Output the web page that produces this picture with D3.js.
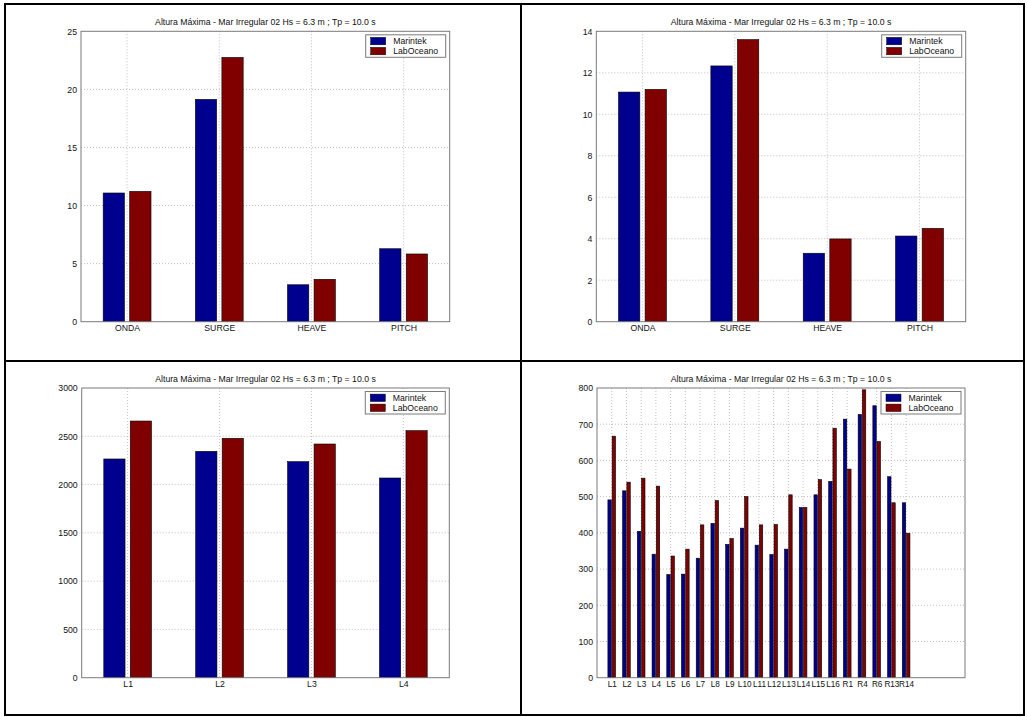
<!DOCTYPE html>
<html>
<head>
<meta charset="utf-8">
<script src="https://cdn.jsdelivr.net/npm/d3@7"></script>
<style>
  html, body { margin: 0; padding: 0; background: #fff; }
  svg { display: block; }
  text { font-family: "Liberation Sans", Arial, sans-serif; fill: #111; }
</style>
</head>
<body>
<svg id="chart" width="1027" height="717"></svg>
<script>
// ---------- data ----------
const titleText = "Altura Máxima - Mar Irregular 02 Hs = 6.3 m ; Tp = 10.0 s";
const seriesNames = ["Marintek", "LabOceano"];

const motionCats = ["ONDA", "SURGE", "HEAVE", "PITCH"];
const p1Marintek  = [11.08, 19.14, 3.18, 6.28];
const p1LabOceano = [11.22, 22.75, 3.65, 5.83];
const p1YTicks = [0, 5, 10, 15, 20, 25];

const p2Marintek  = [11.07, 12.33, 3.30, 4.13];
const p2LabOceano = [11.20, 13.60, 3.99, 4.50];
const p2YTicks = [0, 2, 4, 6, 8, 10, 12, 14];

const lineCats = ["L1", "L2", "L3", "L4"];
const p3Marintek  = [2265, 2344, 2237, 2068];
const p3LabOceano = [2658, 2479, 2420, 2558];
const p3YTicks = [0, 500, 1000, 1500, 2000, 2500, 3000];

const allLineCats = ["L1","L2","L3","L4","L5","L6","L7","L8","L9","L10","L11","L12","L13","L14","L15","L16","R1","R4","R6","R13","R14"];
const p4Marintek  = [491, 516, 404, 341, 285, 286, 330, 426, 368, 413, 366, 340, 355, 470, 505, 542, 714, 727, 751, 555, 483];
const p4LabOceano = [667, 540, 551, 529, 336, 355, 422, 489, 384, 500, 422, 423, 505, 470, 547, 689, 576, 795, 652, 483, 399];
const p4YTicks = [0, 100, 200, 300, 400, 500, 600, 700, 800];

const colors = ["#00008f", "#800000"];
const FS = "8.7px";

// ---------- layout ----------
const svg = d3.select("#chart");

const panels = [
  { cats: motionCats, a: p1Marintek, b: p1LabOceano, yTicks: p1YTicks,
    x0: 81, x1: 449.7, y0: 31.3, y1: 321.7, xDom: [0.5, 4.5] },
  { cats: motionCats, a: p2Marintek, b: p2LabOceano, yTicks: p2YTicks,
    x0: 596.3, x1: 965.7, y0: 31.3, y1: 321.7, xDom: [0.5, 4.5] },
  { cats: lineCats, a: p3Marintek, b: p3LabOceano, yTicks: p3YTicks,
    x0: 81.7, x1: 449.3, y0: 388, y1: 677.7, xDom: [0.5, 4.5] },
  { cats: allLineCats, a: p4Marintek, b: p4LabOceano, yTicks: p4YTicks,
    x0: 597, x1: 965, y0: 388, y1: 677.7, xDom: [0, 25], xFs: "8.2px" }
];

panels.forEach(p => {
  const g = svg.append("g");
  const x = d3.scaleLinear().domain(p.xDom).range([p.x0, p.x1]);
  const y = d3.scaleLinear().domain([0, d3.max(p.yTicks)]).range([p.y1, p.y0]);
  const slot = x(2) - x(1);
  const idx = p.cats.map((c, i) => i + 1);

  // grid
  g.append("g").selectAll("line.h").data(p.yTicks.slice(1, -1)).join("line")
    .attr("x1", p.x0).attr("x2", p.x1)
    .attr("y1", d => y(d)).attr("y2", d => y(d))
    .attr("stroke", "#b0b0b0").attr("stroke-width", 0.8).attr("stroke-dasharray", "1,2");
  g.append("g").selectAll("line.v").data(idx).join("line")
    .attr("x1", d => x(d)).attr("x2", d => x(d))
    .attr("y1", p.y0).attr("y2", p.y1)
    .attr("stroke", "#b0b0b0").attr("stroke-width", 0.8).attr("stroke-dasharray", "1,2");

  // bars
  const bw = slot * 0.231;
  const off = slot * 0.144;
  [p.a, p.b].forEach((vals, s) => {
    g.append("g").selectAll("rect").data(vals).join("rect")
      .attr("x", (d, i) => x(i + 1) + (s === 0 ? -off : off) - bw / 2)
      .attr("width", bw)
      .attr("y", d => y(d))
      .attr("height", d => y(0) - y(d))
      .attr("fill", colors[s])
      .attr("stroke", "#000").attr("stroke-width", 0.6);
  });

  // axes
  const yAxis = d3.axisLeft(y).tickValues(p.yTicks).tickFormat(d3.format("d")).tickSize(0).tickPadding(4);
  const ya = g.append("g").attr("transform", `translate(${p.x0},0)`).call(yAxis);
  const xAxis = d3.axisBottom(x).tickValues(idx).tickFormat(d => p.cats[d - 1]).tickSize(0).tickPadding(3.5);
  const xa = g.append("g").attr("transform", `translate(0,${p.y1})`).call(xAxis);
  ya.select(".domain").remove();
  xa.select(".domain").remove();
  ya.selectAll("text").style("font-family", '"Liberation Sans", Arial, sans-serif')
    .style("font-size", FS).attr("fill", "#111");
  xa.selectAll("text").style("font-family", '"Liberation Sans", Arial, sans-serif')
    .style("font-size", p.xFs || FS).attr("fill", "#111");

  // box
  g.append("rect").attr("x", p.x0).attr("y", p.y0)
    .attr("width", p.x1 - p.x0).attr("height", p.y1 - p.y0)
    .attr("fill", "none").attr("stroke", "#7a7a7a").attr("stroke-width", 1);

  // title
  g.append("text").attr("x", (p.x0 + p.x1) / 2).attr("y", p.y0 - 6.5)
    .attr("text-anchor", "middle").style("font-size", FS).text(titleText);

  // legend
  const lx = p.x1 - 84, ly = p.y0 + 3.5;
  const lg = g.append("g").attr("transform", `translate(${lx},${ly})`);
  lg.append("rect").attr("width", 80).attr("height", 22.5)
    .attr("fill", "#fff").attr("stroke", "#7a7a7a").attr("stroke-width", 1);
  seriesNames.forEach((n, i) => {
    lg.append("rect").attr("x", 5).attr("y", 2.6 + i * 10).attr("width", 15).attr("height", 7.4)
      .attr("fill", colors[i]).attr("stroke", "#000").attr("stroke-width", 0.5);
    lg.append("text").attr("x", 27.5).attr("y", 9.5 + i * 10)
      .style("font-size", FS).text(n);
  });
});

// outer table borders
const bc = "#000";
svg.append("rect").attr("x", 5).attr("y", 4).attr("width", 1019).attr("height", 711)
  .attr("fill", "none").attr("stroke", bc).attr("stroke-width", 2);
svg.append("line").attr("x1", 521).attr("x2", 521).attr("y1", 4).attr("y2", 715)
  .attr("stroke", bc).attr("stroke-width", 2);
svg.append("line").attr("x1", 5).attr("x2", 1024).attr("y1", 361).attr("y2", 361)
  .attr("stroke", bc).attr("stroke-width", 2);
</script>
</body>
</html>
